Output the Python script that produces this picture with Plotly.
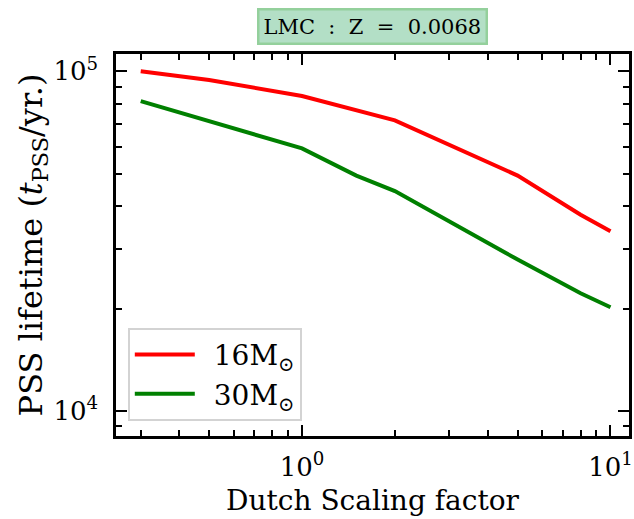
import plotly.graph_objects as go

# Data
dutch_factor_16 = [0.3, 0.5, 1.0, 2.0, 5.0, 8.0, 10.0]
lifetime_16 = [100000, 94300, 84600, 71700, 49300, 37800, 33800]

dutch_factor_30 = [0.3, 0.5, 1.0, 1.5, 2.0, 5.0, 8.0, 10.0]
lifetime_30 = [81700, 71200, 59300, 49300, 44400, 27900, 22200, 20200]

series_names = ["\u200216M<sub>⊙</sub>", "\u200230M<sub>⊙</sub>"]
series_colors = ["#ff0000", "#008000"]

x_major = [1, 10]
x_major_text = ["10<sup>0</sup>", "10<sup>1</sup>"]
x_minor = [0.3, 0.4, 0.5, 0.6, 0.7, 0.8, 0.9, 2, 3, 4, 5, 6, 7, 8, 9]
y_major = [1e4, 1e5]
y_major_text = ["10<sup>4</sup>", "10<sup>5</sup>"]
y_minor = [2e4, 3e4, 4e4, 5e4, 6e4, 7e4, 8e4, 9e4, 9e3]

FONT = "DejaVu Serif"

fig = go.Figure()
fig.add_trace(go.Scatter(x=dutch_factor_16, y=lifetime_16, mode="lines",
                         name=series_names[0],
                         line=dict(color=series_colors[0], width=4)))
fig.add_trace(go.Scatter(x=dutch_factor_30, y=lifetime_30, mode="lines",
                         name=series_names[1],
                         line=dict(color=series_colors[1], width=4)))

axis_common = dict(
    showgrid=False, zeroline=False, automargin=False,
    showline=True, linecolor="black", linewidth=2.5, mirror="ticks",
    ticks="inside", ticklen=11, tickwidth=2, tickcolor="black",
    tickfont=dict(family=FONT, size=26, color="black"),
)

fig.update_xaxes(
    type="log", range=[-0.603, 1.06],
    tickmode="array", tickvals=x_major, ticktext=x_major_text,
    ticklabelstandoff=6,
    minor=dict(ticks="inside", ticklen=6, tickwidth=1.5, tickcolor="black",
               tickvals=x_minor, showgrid=False),
    title=dict(text="Dutch Scaling factor",
               font=dict(family=FONT, size=28, color="black"), standoff=10),
    **axis_common,
)
fig.update_yaxes(
    type="log", range=[3.926, 5.051],
    tickmode="array", tickvals=y_major, ticktext=y_major_text,
    ticklabelstandoff=10,
    minor=dict(ticks="inside", ticklen=6, tickwidth=1.5, tickcolor="black",
               tickvals=y_minor, showgrid=False),
    title=dict(text="PSS lifetime (<i>t</i><sub>PSS</sub>/yr.)",
               font=dict(family=FONT, size=32, color="black"), standoff=2),
    **axis_common,
)

fig.add_annotation(
    text="LMC  :  Z  =  0.0068", xref="paper", yref="paper",
    x=0.5, y=1.073, xanchor="center", yanchor="middle", showarrow=False,
    font=dict(family=FONT, size=21, color="black"),
    bgcolor="#b3dfc6", bordercolor="#94d09c", borderwidth=2.5, borderpad=4,
)

fig.update_layout(
    width=634, height=519,
    margin=dict(l=116, r=5, t=54, b=83),
    paper_bgcolor="white", plot_bgcolor="white",
    showlegend=True,
    legend=dict(x=0.023, y=0.04, xanchor="left", yanchor="bottom",
                bgcolor="white", bordercolor="#d3d3d3", borderwidth=2,
                font=dict(family=FONT, size=28, color="black"),
                itemwidth=60, tracegroupgap=4),
)

fig.write_html("out.html", config={"displayModeBar": False},
               post_script="document.body.style.margin='0';document.body.style.overflow='hidden';")
